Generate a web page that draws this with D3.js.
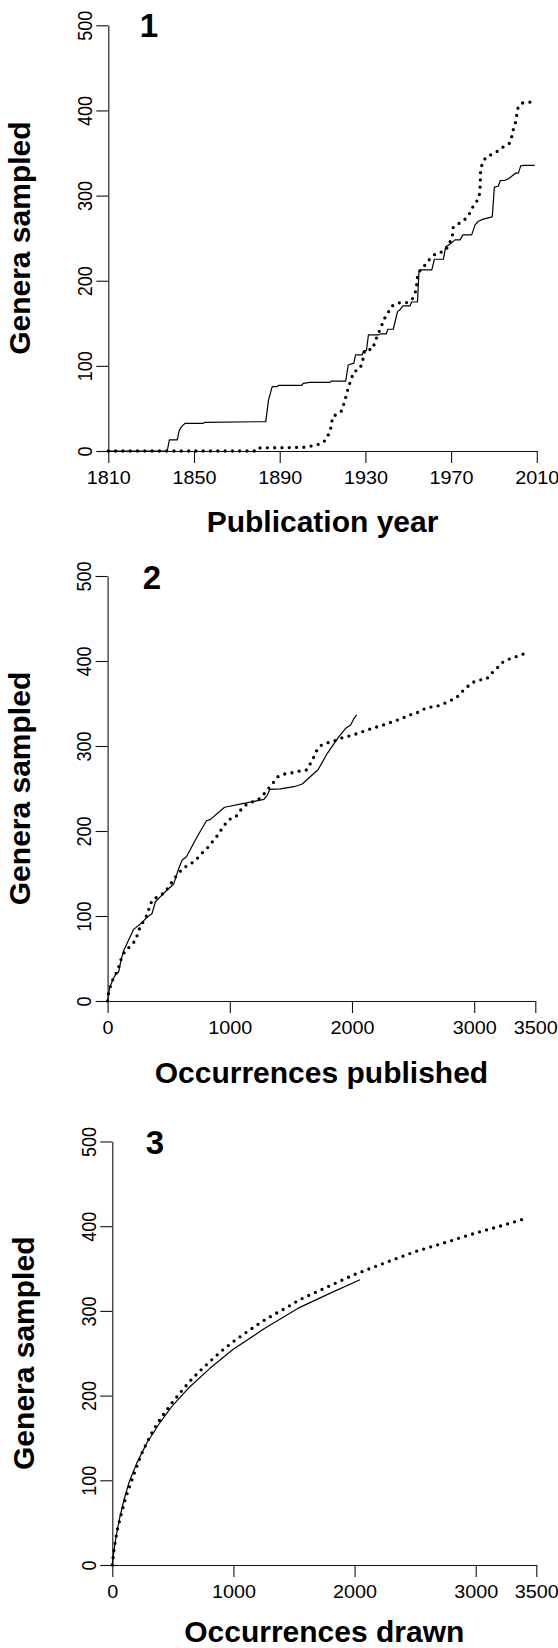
<!DOCTYPE html>
<html>
<head>
<meta charset="utf-8">
<script src="https://cdn.jsdelivr.net/npm/d3@7"></script>
<style>
html,body{margin:0;padding:0;background:#fff;}
svg{display:block;}
</style>
</head>
<body>
<svg id="chart" width="558" height="1648"></svg>
<script>
// ---------------- DATA ----------------
const yTicks = [0, 100, 200, 300, 400, 500];
const yearTicks = [1810, 1850, 1890, 1930, 1970, 2010];
const occTicks = [0, 1000, 2000, 3000, 3500];
const yTitle = "Genera sampled";
const xTitles = ["Publication year", "Occurrences published", "Occurrences drawn"];
const panelLabels = ["1", "2", "3"];

// Panel 1: genera sampled vs publication year
const p1Solid = [[1810,0],[1837.5,0],[1838.5,13],[1842.2,13],[1843.1,24],[1844.2,28.6],[1845.8,32.5],[1854.3,32.5],[1855,33.7],[1883.5,34.5],[1884.8,60],[1886.5,75.6],[1888.7,75.6],[1889.5,77],[1900.3,77],[1901,79.4],[1904,80.6],[1913.5,80.6],[1914,82],[1920.8,82],[1922,101],[1924,102.7],[1924.6,103],[1925.4,112.8],[1928.5,113],[1929.3,118],[1930.5,118],[1931.4,136.3],[1936,136.3],[1937,137.5],[1939.7,137.5],[1940.5,143],[1943,143],[1945,163.7],[1946,165.6],[1947.5,170.4],[1950.8,170.4],[1951.5,175],[1954.3,175],[1955,210.7],[1955.6,212.7],[1961,212.7],[1962.2,225.2],[1966.4,225.2],[1967.5,240],[1969.5,243],[1971.8,248],[1974.2,248],[1975.5,253.8],[1979.6,253.8],[1981.2,265.6],[1982.5,269.5],[1985,272.3],[1989.2,275],[1990.2,309.9],[1992,311],[1993,317.7],[1995,317.7],[1997,320],[2000,326.3],[2001.4,326.3],[2002.5,334.9],[2004,335.5],[2009,335.5]];
const p1Dotted = [[1810,0],[1878.5,0],[1879.5,3.5],[1901,4.3],[1904,5.5],[1907.3,7.2],[1910.4,9.9],[1912.2,16.6],[1913.5,22.9],[1914.2,31.7],[1914.7,40.3],[1916.9,43.4],[1919,47.3],[1920,56],[1920.9,63.9],[1921.5,69.7],[1922.6,78.7],[1924.6,93.2],[1927.2,96],[1928.5,103],[1929.7,118.7],[1933.4,119.5],[1934.4,128],[1936.7,142],[1939,156],[1942.5,170.4],[1945.6,174],[1949,174],[1951.8,178],[1953.7,189],[1954.2,203],[1955,210.7],[1957,215.4],[1958.9,222.5],[1963,232.3],[1966.3,234],[1968.7,240],[1970.6,253],[1971,262.9],[1973.4,266.8],[1975.7,270.3],[1978,276],[1980.8,289.9],[1982.8,295.8],[1983.3,302.8],[1983.6,312.6],[1983.7,321.6],[1983.8,331],[1984.7,338.8],[1986.3,345.1],[1989.4,348.9],[1992,352.5],[1994.6,357.6],[1997.4,361.6],[1998.2,368.2],[1999,377.2],[2000,385],[2000.6,394],[2001.2,402.7],[2003,408.6],[2006.5,409.7],[2009,410]];

// Panel 2: genera sampled vs occurrences published
const p2Solid = [[0,0],[16,15],[44,25.5],[71,32.5],[90,34],[110,48],[131,59],[172,71.8],[213,84.3],[268,90.6],[323,98.4],[364,103],[391,116.8],[459,126.7],[541,137.6],[582,156],[610,165.9],[645,169.8],[733,193.3],[809,212],[842,213.7],[957,227.9],[1115,232.5],[1279,237.3],[1306,242],[1328,249],[1415,249.5],[1525,252.1],[1593,255.3],[1689,267.9],[1721,271.8],[1798,291.4],[1893,311],[1948,320.8],[1989,324.7],[2017,332.6],[2039,336.5]];
const p2Dotted = [[0,0],[8,9],[22,17],[44,25.5],[71,33],[96,42],[112,50],[139,58],[186,64.7],[227,71],[246,79],[268,88.2],[303,95.3],[328,103],[344,111.8],[369,119.6],[426,123.5],[473,128.6],[508,136],[541,143],[577,150],[623,156.9],[678,161],[727,166.7],[765,173],[809,178.8],[847,185.5],[888,192.5],[923,200],[956,207],[997,213.7],[1046,216],[1082,223.5],[1123,230],[1178,234],[1230,236.5],[1273,242.4],[1315,249.7],[1356,256.8],[1394,263.9],[1448,267],[1511,268.6],[1574,270.6],[1628,271.8],[1661,279.6],[1689,287.4],[1716,296],[1752,301.2],[1812,304.3],[1875,307],[1929,310.2],[1989,312.2],[2049,314.9],[2107,318],[2167,320.8],[2227,323.5],[2284,325.9],[2344,329.4],[2404,331.8],[2462,336.5],[2516,337.6],[2571,342.4],[2626,345.5],[2686,346.3],[2740,349],[2795,352.9],[2850,356],[2891,362.7],[2937,368.6],[2981,374.5],[3041,377.6],[3101,378.8],[3142,385.5],[3186,391.4],[3227,398],[3281,402],[3342,405],[3402,408.2],[3435,409.5]];

// Panel 3: genera sampled vs occurrences drawn (rarefaction)
const p3Solid = [[0,0],[14,17.7],[36,37.4],[63,57],[96,76.7],[140,98.4],[201,120],[284,143.7],[380,165.3],[490,186.9],[627,208.6],[806,232.2],[998,254.7],[1259,279.4],[1548,304.2],[1800,321],[2044,336.8]];
const p3Dotted = [[0,0],[14,18.5],[41,41.3],[77,61.8],[110,79.5],[152,96.4],[193,113],[237,129.9],[292,146.4],[347,161.3],[415,176.3],[490,190.9],[567,204.6],[649,218.4],[737,231],[828,243.2],[921,255],[1020,266],[1122,276.3],[1226,286.5],[1328,295.2],[1438,303.8],[1542,312.9],[1800,330],[2000,343],[2200,354],[2500,370],[2800,383],[3000,392],[3200,400],[3432,410]];

// ---------------- LAYOUT ----------------
const FONT = "'Liberation Sans', Arial, Helvetica, sans-serif";
const panels = [
  {xDomain:[1810,2010], xTicks:yearTicks, xr:[108.3,536.8], yr:[451,25.3], solid:p1Solid, dotted:p1Dotted,
   title:xTitles[0], titleY:532, ytitleX:30, label:panelLabels[0], labelX:149, labelY:36.7},
  {xDomain:[0,3500], xTicks:occTicks, xr:[107.6,535.3], yr:[1001,576], solid:p2Solid, dotted:p2Dotted,
   title:xTitles[1], titleY:1082.7, ytitleX:30, label:panelLabels[1], labelX:152, labelY:589},
  {xDomain:[0,3500], xTicks:occTicks, xr:[112.3,536.3], yr:[1565,1141.5], solid:p3Solid, dotted:p3Dotted,
   title:xTitles[2], titleY:1641.5, ytitleX:34, label:panelLabels[2], labelX:155, labelY:1154}
];

const svg = d3.select("#chart");

panels.forEach(p => {
  const x = d3.scaleLinear().domain(p.xDomain).range(p.xr);
  const y = d3.scaleLinear().domain([0,500]).range(p.yr);
  const g = svg.append("g");

  const gx = g.append("g").attr("transform", `translate(0,${p.yr[0]})`)
    .call(d3.axisBottom(x).tickValues(p.xTicks).tickSize(12).tickSizeOuter(0).tickFormat(d3.format("d")));
  const gy = g.append("g").attr("transform", `translate(${p.xr[0]},0)`)
    .call(d3.axisLeft(y).tickValues(yTicks).tickSize(12).tickSizeOuter(0).tickFormat(d3.format("d")));

  [gx, gy].forEach(a => {
    a.select(".domain").attr("stroke", "#111").attr("stroke-width", 1.1);
    a.selectAll(".tick line").attr("stroke", "#111").attr("stroke-width", 1.1);
    a.selectAll("text").attr("font-family", FONT).attr("font-size", 18).attr("fill", "#000");
  });
  gx.selectAll(".tick text").attr("y", 0).attr("dy", 0).attr("text-anchor", "middle")
    .attr("transform", "translate(0,33) scale(1.1,1)");
  gy.selectAll(".tick text").attr("x", 0).attr("dy", 0).attr("y", 0).attr("text-anchor", "middle")
    .attr("transform", "translate(-16.5,0) rotate(-90) scale(1,1.16)");

  const line = d3.line().x(d => x(d[0])).y(d => y(d[1])).curve(d3.curveLinear);

  g.append("path").datum(p.solid).attr("d", line)
    .attr("fill", "none").attr("stroke", "#000").attr("stroke-width", 1.2).attr("stroke-linejoin", "round");
  g.append("path").datum(p.dotted).attr("d", line)
    .attr("fill", "none").attr("stroke", "#000").attr("stroke-width", 3.3)
    .attr("stroke-linecap", "round").attr("stroke-dasharray", "0 7.3");

  g.append("text").attr("x", (p.xr[0]+p.xr[1])/2).attr("y", p.titleY)
    .attr("text-anchor", "middle").attr("font-family", FONT).attr("font-weight", "bold")
    .attr("font-size", 30).text(p.title);
  g.append("text").attr("transform", `translate(${p.ytitleX},${(p.yr[0]+p.yr[1])/2}) rotate(-90)`)
    .attr("text-anchor", "middle").attr("font-family", FONT).attr("font-weight", "bold")
    .attr("font-size", 30).text(yTitle);
  g.append("text").attr("x", p.labelX).attr("y", p.labelY)
    .attr("text-anchor", "middle").attr("font-family", FONT).attr("font-weight", "bold")
    .attr("font-size", 33).text(p.label);
});
</script>
</body>
</html>
